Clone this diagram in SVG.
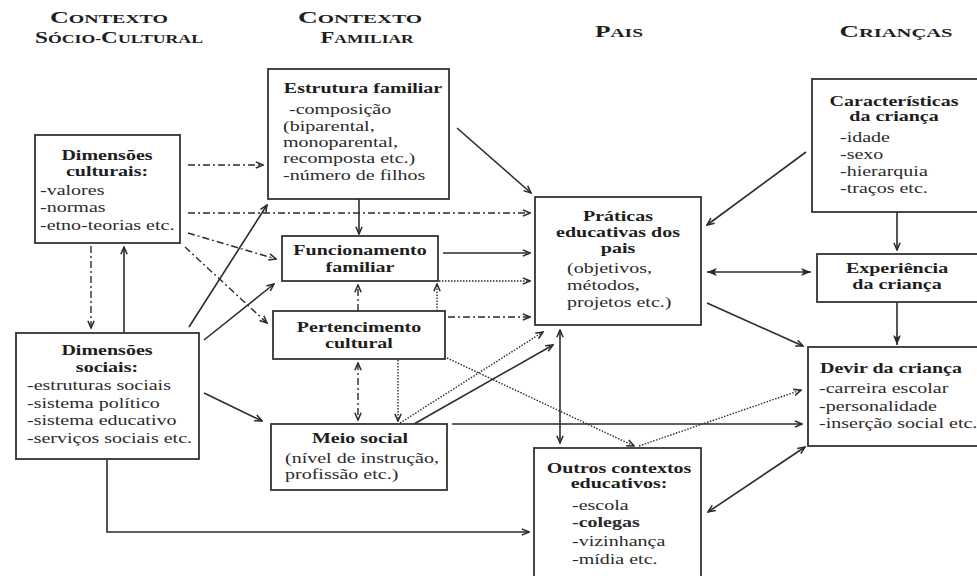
<svg xmlns="http://www.w3.org/2000/svg" width="977" height="576" viewBox="0 0 977 576">
<style>
text{font-family:"Liberation Serif","Times New Roman",serif;fill:#2a2a2a}
.h{font-weight:bold;text-anchor:middle;font-size:13px;fill:#1e1e1e}
.big{font-size:17px}
.b{font-weight:bold;font-size:14px;fill:#1e1e1e}
.t{font-size:14px}
.c{text-anchor:middle}
.box{fill:#fff;stroke:#333;stroke-width:1.8}
.s{fill:none;stroke:#2b2b2b;stroke-width:1.6}
.dd{fill:none;stroke:#2b2b2b;stroke-width:1.4;stroke-dasharray:7 3 2 3}
.dt{fill:none;stroke:#2b2b2b;stroke-width:1.4;stroke-dasharray:1.5 1.5}
</style>
<defs>
<marker id="a" viewBox="0 0 10 10" refX="9" refY="5" markerWidth="9" markerHeight="9" markerUnits="userSpaceOnUse" orient="auto-start-reverse"><path d="M1,1.5 L9,5 L1,8.5" fill="none" stroke="#2b2b2b" stroke-width="1.7"/></marker>
<marker id="f" viewBox="0 0 10 10" refX="10" refY="5" markerWidth="10" markerHeight="10" markerUnits="userSpaceOnUse" orient="auto-start-reverse"><path d="M0,1 L10,5 L0,9 L2.5,5 Z" fill="#2b2b2b"/></marker>
</defs>
<rect width="977" height="576" fill="#fff"/>

<g id="headers">
<text class="h" x="109" y="23" textLength="118" lengthAdjust="spacingAndGlyphs"><tspan class="big">C</tspan>ONTEXTO</text>
<text class="h" x="119" y="43" textLength="168" lengthAdjust="spacingAndGlyphs"><tspan class="big">S</tspan>ÓCIO-<tspan class="big">C</tspan>ULTURAL</text>
<text class="h" x="360" y="23" textLength="124" lengthAdjust="spacingAndGlyphs"><tspan class="big">C</tspan>ONTEXTO</text>
<text class="h" x="367" y="43" textLength="93" lengthAdjust="spacingAndGlyphs"><tspan class="big">F</tspan>AMILIAR</text>
<text class="h" x="619" y="37" textLength="48" lengthAdjust="spacingAndGlyphs"><tspan class="big">P</tspan>AIS</text>
<text class="h" x="896" y="37" textLength="113" lengthAdjust="spacingAndGlyphs"><tspan class="big">C</tspan>RIANÇAS</text>
</g>

<g id="connectors">
<path class="dd" d="M188,165 L263,165" marker-end="url(#a)"/>
<path class="dd" d="M188,213 L530,213" marker-end="url(#a)"/>
<path class="dd" d="M188,233 L276,259" marker-end="url(#a)"/>
<path class="dd" d="M185,247 L267,323" marker-end="url(#a)"/>
<path class="dd" d="M91,246 L91,328" marker-end="url(#a)"/>
<path class="dd" d="M358,311 L358,285" marker-end="url(#a)"/>
<path class="dd" d="M358,363 L358,420" marker-start="url(#a)" marker-end="url(#a)"/>
<path class="dd" d="M448,317 L530,317" marker-end="url(#a)"/>

<path class="s" d="M124,333 L124,247" marker-end="url(#a)"/>
<path class="s" d="M189,327 L267,205" marker-end="url(#a)"/>
<path class="s" d="M204,340 L274,284" marker-end="url(#a)"/>
<path class="s" d="M204,393 L262,421" marker-end="url(#a)"/>
<path class="s" d="M107,459 L107,532 L529,532" marker-end="url(#a)"/>
<path class="s" d="M359,199 L359,234" marker-end="url(#a)"/>
<path class="s" d="M457,128 L531,193" marker-end="url(#a)"/>
<path class="s" d="M443,253 L530,253" marker-end="url(#a)"/>
<path class="s" d="M414,424 L553,345" marker-end="url(#a)"/>
<path class="s" d="M452,424 L802,424" marker-end="url(#a)"/>
<path class="s" d="M560,330 L560,443" marker-start="url(#a)" marker-end="url(#a)"/>
<path class="s" d="M806,152 L707,225" marker-end="url(#a)"/>
<path class="s" d="M707,272 L811,272" marker-start="url(#f)" marker-end="url(#f)"/>
<path class="s" d="M897,212 L897,250" marker-end="url(#a)"/>
<path class="s" d="M897,302 L897,345" marker-end="url(#f)"/>
<path class="s" d="M707,303 L803,346" marker-end="url(#a)"/>
<path class="s" d="M708,512 L805,447" marker-start="url(#a)" marker-end="url(#a)"/>

<path class="dt" d="M437,311 L437,284" marker-end="url(#a)"/>
<path class="dt" d="M439,281 L530,281" marker-end="url(#a)"/>
<path class="dt" d="M398,360 L398,421" marker-end="url(#a)"/>
<path class="dt" d="M400,423 L543,332" marker-end="url(#a)"/>
<path class="dt" d="M447,358 L634,446" marker-end="url(#a)"/>
<path class="dt" d="M639,446 L801,390" marker-end="url(#a)"/>
</g>

<g id="dim-culturais">
<rect class="box" x="35" y="135" width="145" height="108"/>
<text class="b c" transform="translate(107,0) scale(1.43,1)"><tspan x="0" y="160">Dimensões</tspan><tspan x="0" y="176">culturais:</tspan></text>
<text class="t" transform="translate(40,0) scale(1.43,1)"><tspan x="0" y="195">-valores</tspan><tspan x="0" y="212">-normas</tspan><tspan x="0" y="230">-etno-teorias etc.</tspan></text>
</g>

<g id="estrutura">
<rect class="box" x="268" y="69" width="181" height="130"/>
<text class="b c" transform="translate(363,0) scale(1.43,1)"><tspan x="0" y="93">Estrutura familiar</tspan></text>
<text class="t" transform="translate(289,0) scale(1.43,1)"><tspan x="0" y="114">-composição</tspan></text>
<text class="t" transform="translate(283,0) scale(1.43,1)"><tspan x="0" y="131">(biparental,</tspan><tspan x="0" y="147">monoparental,</tspan><tspan x="0" y="163">recomposta etc.)</tspan><tspan x="0" y="180">-número de filhos</tspan></text>
</g>

<g id="funcionamento">
<rect class="box" x="282" y="236" width="156" height="45"/>
<text class="b c" transform="translate(360,0) scale(1.43,1)"><tspan x="0" y="255">Funcionamento</tspan><tspan x="0" y="272">familiar</tspan></text>
</g>

<g id="pertencimento">
<rect class="box" x="273" y="311" width="172" height="48"/>
<text class="b c" transform="translate(359,0) scale(1.43,1)"><tspan x="0" y="332">Pertencimento</tspan><tspan x="0" y="348">cultural</tspan></text>
</g>

<g id="dim-sociais">
<rect class="box" x="16" y="333" width="183" height="126"/>
<text class="b c" transform="translate(107,0) scale(1.43,1)"><tspan x="0" y="355">Dimensões</tspan><tspan x="0" y="372">sociais:</tspan></text>
<text class="t" transform="translate(27,0) scale(1.43,1)"><tspan x="0" y="390">-estruturas sociais</tspan><tspan x="0" y="408">-sistema político</tspan><tspan x="0" y="425">-sistema educativo</tspan><tspan x="0" y="443">-serviços sociais etc.</tspan></text>
</g>

<g id="meio-social">
<rect class="box" x="271" y="424" width="176" height="66"/>
<text class="b c" transform="translate(360,0) scale(1.43,1)"><tspan x="0" y="443">Meio social</tspan></text>
<text class="t" transform="translate(285,0) scale(1.43,1)"><tspan x="0" y="463">(nível de instrução,</tspan><tspan x="0" y="479">profissão etc.)</tspan></text>
</g>

<g id="praticas">
<rect class="box" x="535" y="197" width="166" height="128"/>
<text class="b c" transform="translate(618,0) scale(1.43,1)"><tspan x="0" y="221">Práticas</tspan><tspan x="0" y="237">educativas dos</tspan><tspan x="0" y="253">pais</tspan></text>
<text class="t" transform="translate(567,0) scale(1.43,1)"><tspan x="0" y="273">(objetivos,</tspan><tspan x="0" y="290">métodos,</tspan><tspan x="0" y="307">projetos etc.)</tspan></text>
</g>

<g id="caracteristicas">
<rect class="box" x="812" y="79" width="170" height="133"/>
<text class="b c" transform="translate(894,0) scale(1.43,1)"><tspan x="0" y="106">Características</tspan><tspan x="0" y="121">da criança</tspan></text>
<text class="t" transform="translate(840,0) scale(1.43,1)"><tspan x="0" y="142">-idade</tspan><tspan x="0" y="159">-sexo</tspan><tspan x="0" y="176">-hierarquia</tspan><tspan x="0" y="193">-traços etc.</tspan></text>
</g>

<g id="experiencia">
<rect class="box" x="817" y="254" width="165" height="48"/>
<text class="b c" transform="translate(897,0) scale(1.43,1)"><tspan x="0" y="273">Experiência</tspan><tspan x="0" y="289">da criança</tspan></text>
</g>

<g id="devir">
<rect class="box" x="808" y="347" width="174" height="99"/>
<text class="b" transform="translate(820,0) scale(1.43,1)"><tspan x="0" y="373">Devir da criança</tspan></text>
<text class="t" transform="translate(819,0) scale(1.43,1)"><tspan x="0" y="393">-carreira escolar</tspan><tspan x="0" y="411">-personalidade</tspan><tspan x="0" y="428">-inserção social etc.</tspan></text>
</g>

<g id="outros">
<rect class="box" x="534" y="448" width="167" height="140"/>
<text class="b c" transform="translate(619,0) scale(1.43,1)"><tspan x="0" y="473">Outros contextos</tspan><tspan x="0" y="488">educativos:</tspan></text>
<text class="t" transform="translate(572,0) scale(1.43,1)"><tspan x="0" y="510">-escola</tspan><tspan x="0" y="527" font-weight="bold">-colegas</tspan><tspan x="0" y="546">-vizinhança</tspan><tspan x="0" y="564">-mídia etc.</tspan></text>
</g>
</svg>
